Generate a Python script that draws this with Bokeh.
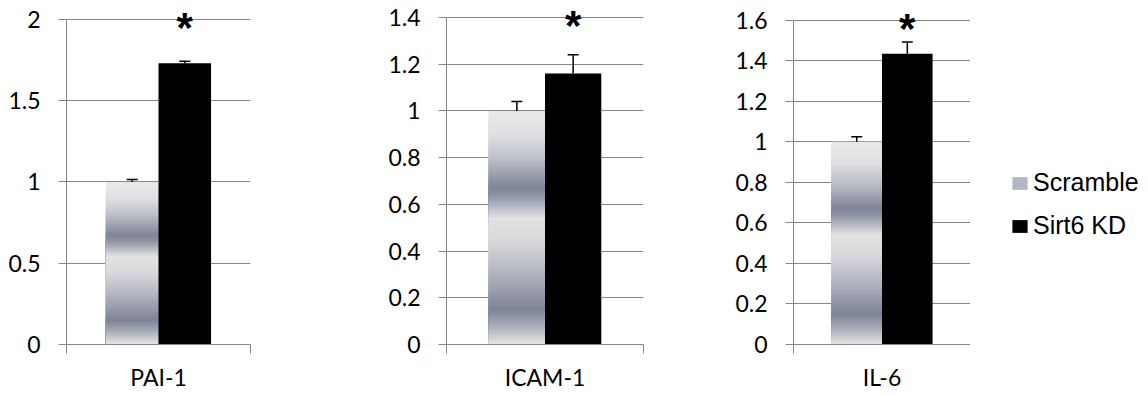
import numpy as np
from bokeh.plotting import figure
from bokeh.layouts import row
from bokeh.models import (Range1d, FixedTicker, ColumnDataSource, Legend, LegendItem)
from bokeh.transform import dodge
from bokeh.core.properties import value
from bokeh.embed import file_html
from bokeh.resources import INLINE

# ---------------- data ----------------
categories = ["PAI-1", "ICAM-1", "IL-6"]
series = ["Scramble", "Sirt6 KD"]
scramble_mean = [1.0, 1.0, 1.0]
scramble_err = [0.015, 0.04, 0.025]
sirt6_mean = [1.73, 1.16, 1.435]
sirt6_err = [0.012, 0.08, 0.058]
significance = ["*", "*", "*"]
y_max = [2.0, 1.4, 1.6]
y_ticks = [
    [0, 0.5, 1, 1.5, 2],
    [0, 0.2, 0.4, 0.6, 0.8, 1, 1.2, 1.4],
    [0, 0.2, 0.4, 0.6, 0.8, 1, 1.2, 1.4, 1.6],
]
y_tick_labels = [
    ["0", "0.5", "1", "1.5", "2"],
    ["0", "0.2", "0.4", "0.6", "0.8", "1", "1.2", "1.4"],
    ["0", "0.2", "0.4", "0.6", "0.8", "1", "1.2", "1.4", "1.6"],
]

# ---------------- style / layout ----------------
GRID = "#868686"
TICK_FONT = "Lato"
H = 396
fig_w = [340, 360, 270]
border_l = [66, 106, 93]
frame_w = [184, 197, 177]
top_gap = [19, 17, 20]         # px from frame top to top gridline
frame_h = [347, 344, 348]      # px from frame top to zero line
GROUP_CENTER = 0.5             # category slot spans 0..1 on the x axis
BAR_W = 1 / 3.5
N_STRIPES = 90
SCRAMBLE_SWATCH = "#b4b8c3"

grad_stops_t = [0.00, 0.10, 0.20, 0.33, 0.37, 0.46, 0.55, 0.70, 0.85, 0.92, 1.00]
grad_stops_c = [(233, 233, 233), (224, 224, 226), (190, 193, 202), (126, 132, 151),
                (148, 153, 168), (226, 226, 228), (218, 218, 221), (176, 179, 191),
                (126, 132, 151), (168, 172, 184), (230, 230, 230)]


def grad_color(t):
    c = [np.interp(t, grad_stops_t, [s[k] for s in grad_stops_c]) for k in range(3)]
    return "#%02x%02x%02x" % tuple(int(round(v)) for v in c)


figs = []
for i, cat in enumerate(categories):
    ph = frame_h[i]
    y_end = y_max[i] * ph / (ph - top_gap[i])
    p = figure(width=fig_w[i], height=H,
               x_range=Range1d(0, 1), y_range=Range1d(0, y_end),
               output_backend="svg", toolbar_location=None, tools="", title=None,
               min_border_left=border_l[i],
               min_border_right=fig_w[i] - border_l[i] - frame_w[i],
               min_border_top=0,
               min_border_bottom=H - ph)
    p.outline_line_color = None
    p.background_fill_color = "white"
    p.border_fill_color = "white"

    # y axis
    yax = p.yaxis[0]
    yax.ticker = FixedTicker(ticks=y_ticks[i])
    yax.major_label_overrides = {t: l for t, l in zip(y_ticks[i], y_tick_labels[i])}
    yax.bounds = (0, y_max[i])
    yax.axis_line_color = GRID
    yax.major_tick_line_color = GRID
    yax.major_tick_out = 8
    yax.major_tick_in = 0
    yax.minor_tick_out = 0
    yax.minor_tick_in = 0
    yax.major_label_standoff = 18
    yax.major_label_text_font = TICK_FONT
    yax.major_label_text_font_size = "23px"
    yax.major_label_text_color = "black"
    p.ygrid.ticker = FixedTicker(ticks=y_ticks[i])
    p.ygrid.grid_line_color = GRID
    p.xgrid.visible = False

    # x axis: ticks at the category slot edges, category name as label
    xax = p.xaxis[0]
    xax.ticker = FixedTicker(ticks=[0, 1])
    xax.major_label_overrides = {0: "", 1: ""}
    xax.axis_line_color = GRID
    xax.major_tick_line_color = GRID
    xax.major_tick_out = 9
    xax.major_tick_in = 0
    xax.minor_tick_out = 0
    xax.minor_tick_in = 0
    xax.major_label_standoff = 0
    xax.major_label_text_font_size = "1px"
    xax.axis_label = cat
    xax.axis_label_text_font = TICK_FONT
    xax.axis_label_text_font_size = "23px"
    xax.axis_label_text_font_style = "normal"
    xax.axis_label_text_color = "black"
    xax.axis_label_standoff = 9

    # gradient "Scramble" bar as stacked stripes (tallest first)
    tops, cols = [], []
    for k in range(N_STRIPES):
        tops.append(scramble_mean[i] * (1 - k / N_STRIPES))
        cols.append(grad_color((k + 0.5) / N_STRIPES))
    gsrc = ColumnDataSource(dict(x=[GROUP_CENTER] * N_STRIPES, top=tops, color=cols))
    p.vbar(x=dodge("x", -BAR_W / 2), top="top", bottom=0,
           width=BAR_W, fill_color="color", line_color=None, source=gsrc)

    ksrc = ColumnDataSource(dict(x=[GROUP_CENTER], mean=[sirt6_mean[i]],
                                 upper=[sirt6_mean[i] + sirt6_err[i]],
                                 ymax=[y_max[i]], star=[significance[i]]))
    ssrc = ColumnDataSource(dict(x=[GROUP_CENTER], mean=[scramble_mean[i]],
                                 upper=[scramble_mean[i] + scramble_err[i]]))
    p.vbar(x=dodge("x", BAR_W / 2), top="mean", bottom=0,
           width=BAR_W, fill_color="black", line_color=None, source=ksrc)

    # error bars (upper only)
    for src, off in ((ssrc, -BAR_W / 2), (ksrc, BAR_W / 2)):
        xd = dodge("x", off)
        p.segment(x0=xd, y0="mean", x1=xd, y1="upper", line_color="black",
                  line_width=1.5, source=src)
        p.scatter(x=xd, y="upper", marker="dash", size=11, line_color="black",
                  line_width=1.5, source=src)

    # significance star
    p.text(x=dodge("x", BAR_W / 2), y="ymax", text="star", source=ksrc,
           text_font=value("Liberation Sans"), text_font_style="bold",
           text_font_size="42px", text_align="center", text_baseline="alphabetic",
           y_offset=8, text_color="black")
    figs.append(p)

# ---------------- legend panel ----------------
pl = figure(width=178, height=H, x_range=Range1d(0, 1), y_range=Range1d(0, 1),
            output_backend="svg", toolbar_location=None, tools="", title=None,
            x_axis_location=None, y_axis_location=None,
            min_border_left=0, min_border_right=0, min_border_top=0, min_border_bottom=0)
pl.outline_line_color = None
pl.grid.visible = False
# zero-height swatch carriers for the legend
lsrc = ColumnDataSource(dict(x=[GROUP_CENTER], top=[0]))
r_s = pl.vbar(x="x", top="top", bottom=0, width=0.1, fill_color=SCRAMBLE_SWATCH,
              line_color=None, source=lsrc)
r_k = pl.vbar(x="x", top="top", bottom=0, width=0.1, fill_color="black",
              line_color=None, source=lsrc)
legend = Legend(items=[
    LegendItem(label=series[0], renderers=[r_s]),
    LegendItem(label=series[1], renderers=[r_k]),
], location=(40, 104), orientation="vertical", padding=0, margin=0,
    spacing=14, glyph_width=19, glyph_height=16, label_standoff=4,
    label_text_font="Liberation Sans", label_text_font_size="25px",
    label_text_color="black", border_line_color=None, background_fill_alpha=0)
pl.add_layout(legend)
figs.append(pl)

layout = row(*figs)
open("out.html", "w").write(file_html(layout, INLINE))
